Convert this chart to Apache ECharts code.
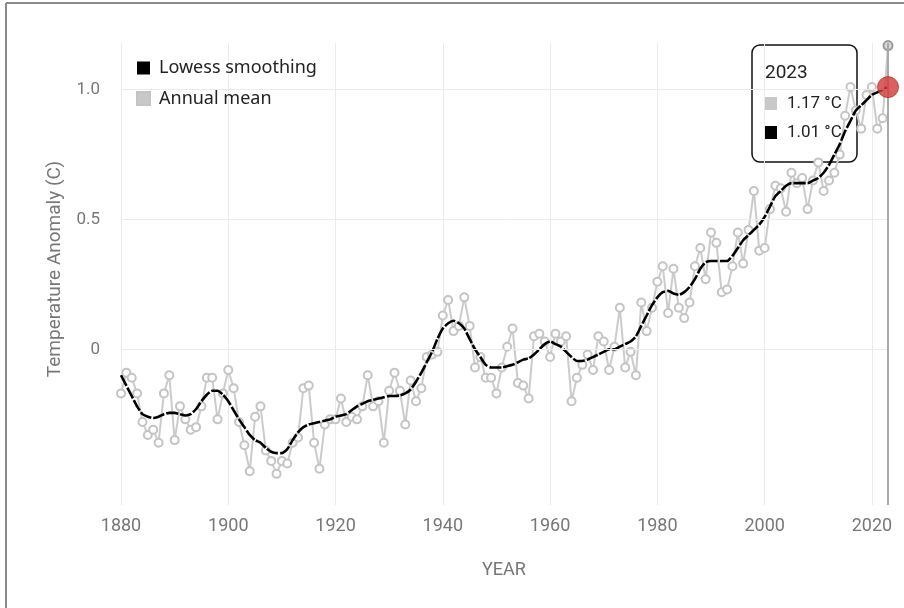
<!DOCTYPE html>
<html>
<head>
<meta charset="utf-8">
<script src="https://cdn.jsdelivr.net/npm/echarts@6/dist/echarts.min.js"></script>
<style>
html,body{margin:0;padding:0;background:#fff;}
#chart{width:904px;height:608px;}
</style>
</head>
<body>
<div id="chart"></div>
<script>
var years = [];
for (var y = 1880; y <= 2023; y++) years.push(y);

var annualMean = [
-0.17,-0.09,-0.11,-0.17,-0.28,-0.33,-0.31,-0.36,-0.17,-0.10,
-0.35,-0.22,-0.27,-0.31,-0.30,-0.22,-0.11,-0.11,-0.27,-0.17,
-0.08,-0.15,-0.28,-0.37,-0.47,-0.26,-0.22,-0.39,-0.43,-0.48,
-0.43,-0.44,-0.36,-0.34,-0.15,-0.14,-0.36,-0.46,-0.29,-0.27,
-0.27,-0.19,-0.28,-0.26,-0.27,-0.22,-0.10,-0.22,-0.20,-0.36,
-0.16,-0.09,-0.16,-0.29,-0.12,-0.20,-0.15,-0.03,-0.02,-0.01,
0.13,0.19,0.07,0.09,0.20,0.09,-0.07,-0.03,-0.11,-0.11,
-0.17,-0.07,0.01,0.08,-0.13,-0.14,-0.19,0.05,0.06,0.03,
-0.03,0.06,0.03,0.05,-0.20,-0.11,-0.06,-0.02,-0.08,0.05,
0.03,-0.08,0.01,0.16,-0.07,-0.01,-0.10,0.18,0.07,0.16,
0.26,0.32,0.14,0.31,0.16,0.12,0.18,0.32,0.39,0.27,
0.45,0.41,0.22,0.23,0.32,0.45,0.33,0.46,0.61,0.38,
0.39,0.54,0.63,0.62,0.53,0.68,0.64,0.66,0.54,0.65,
0.72,0.61,0.65,0.68,0.75,0.90,1.01,0.92,0.85,0.98,
1.01,0.85,0.89,1.17
];

var lowess = [
-0.10,-0.14,-0.18,-0.22,-0.25,-0.26,-0.265,-0.26,-0.25,-0.245,
-0.245,-0.25,-0.255,-0.25,-0.23,-0.20,-0.175,-0.16,-0.16,-0.175,
-0.20,-0.235,-0.27,-0.30,-0.33,-0.35,-0.36,-0.38,-0.395,-0.40,
-0.40,-0.385,-0.35,-0.32,-0.30,-0.29,-0.285,-0.28,-0.275,-0.27,
-0.26,-0.255,-0.25,-0.235,-0.22,-0.21,-0.20,-0.195,-0.19,-0.185,
-0.18,-0.18,-0.178,-0.17,-0.155,-0.125,-0.09,-0.05,-0.01,0.04,
0.08,0.10,0.11,0.10,0.08,0.04,0.00,-0.03,-0.06,-0.07,
-0.07,-0.07,-0.065,-0.06,-0.05,-0.04,-0.035,-0.02,0.00,0.02,
0.03,0.02,0.01,-0.01,-0.03,-0.045,-0.045,-0.04,-0.03,-0.02,
-0.01,0.00,0.00,0.01,0.02,0.03,0.05,0.09,0.13,0.17,
0.20,0.22,0.225,0.215,0.21,0.22,0.24,0.27,0.31,0.335,
0.34,0.34,0.34,0.34,0.36,0.39,0.42,0.44,0.46,0.48,
0.51,0.55,0.59,0.61,0.63,0.64,0.64,0.64,0.64,0.65,
0.66,0.68,0.71,0.75,0.79,0.84,0.88,0.92,0.94,0.96,
0.98,0.99,1.00,1.01
];

var xTicks = [1880,1900,1920,1940,1960,1980,2000,2020];
var yTicks = [0, 0.5, 1.0];
var yTickLabels = ['0', '0.5', '1.0'];

var last = years.length - 1;
var lastYear = years[last];
var lastAnnual = annualMean[last];
var lastLowess = lowess[last];

var annualData = years.map(function (yr, i) {
  var item = { value: [yr, annualMean[i]] };
  if (i === last) {
    item.symbolSize = 9;
    item.itemStyle = { color: '#d8d8d8', borderColor: '#9a9a9a', borderWidth: 2 };
  }
  return item;
});
var lowessData = years.map(function (yr, i) { return [yr, lowess[i]]; });

var FONT = 'Roboto, "Liberation Sans", sans-serif';
var chart = echarts.init(document.getElementById('chart'), null, { renderer: 'canvas' });

chart.setOption({
  animation: false,
  backgroundColor: '#fff',
  grid: { left: 121, right: 16, top: 43, bottom: 103, containLabel: false },
  legend: {
    orient: 'vertical',
    left: 131,
    top: 54,
    itemWidth: 13,
    itemHeight: 13,
    itemGap: 12.6,
    icon: 'rect',
    selectedMode: false,
    textStyle: { fontFamily: '"Noto Sans", sans-serif', fontSize: 18, lineHeight: 18, color: '#222', padding: [0, 0, 0, 4] },
    data: [
      { name: 'Lowess smoothing', itemStyle: { color: '#000' } },
      { name: 'Annual mean', itemStyle: { color: '#c8c8c8' } }
    ]
  },
  xAxis: {
    type: 'value',
    min: 1880,
    max: lastYear,
    interval: 20,
    axisLine: { show: false },
    axisTick: { show: false },
    splitLine: { show: true, lineStyle: { color: '#ebebeb', width: 1 } },
    axisLabel: {
      margin: 12,
      color: '#777',
      fontSize: 18,
      fontFamily: FONT,
      formatter: function (v) { return xTicks.indexOf(Math.round(v)) >= 0 ? String(Math.round(v)) : ''; }
    }
  },
  yAxis: {
    type: 'value',
    min: -0.6,
    max: 1.18,
    interval: 0.1,
    axisLine: { show: false },
    axisTick: { show: false },
    splitLine: { show: false },
    axisLabel: {
      margin: 21,
      color: '#777',
      fontSize: 17,
      fontFamily: FONT,
      formatter: function (v) {
        var r = Math.round(v * 100) / 100;
        for (var i = 0; i < yTicks.length; i++) if (Math.abs(r - yTicks[i]) < 1e-6) return yTickLabels[i];
        return '';
      }
    }
  },
  series: [
    {
      name: 'gridlines',
      type: 'line',
      data: [],
      z: 1,
      silent: true,
      markLine: {
        silent: true,
        symbol: 'none',
        label: { show: false },
        animation: false,
        data: yTicks.map(function (t) { return { yAxis: t, lineStyle: { color: '#ebebeb', width: 1, type: 'solid' } }; })
          .concat([{ xAxis: lastYear, lineStyle: { color: '#a9a9a9', width: 2, type: 'solid' } }])
      }
    },
    {
      name: 'Annual mean',
      type: 'line',
      data: annualData,
      z: 2,
      symbol: 'circle',
      symbolSize: 8,
      showAllSymbol: true,
      lineStyle: { color: '#cbcbcb', width: 2 },
      itemStyle: { color: '#fff', borderColor: '#c4c4c4', borderWidth: 2 }
    },
    {
      name: 'Lowess smoothing',
      type: 'line',
      data: lowessData,
      z: 3,
      symbol: 'none',
      smooth: 0.2,
      lineStyle: { color: '#000', width: 2.6, type: [12, 2] }
    },
    {
      name: 'highlight',
      type: 'scatter',
      z: 5,
      data: [[lastYear, lastLowess]],
      symbolSize: 21,
      itemStyle: { color: '#d23a3a', borderColor: '#b52e2e', borderWidth: 1 }
    }
  ],
  graphic: [
    { type: 'line', shape: { x1: 6, y1: 3, x2: 904, y2: 3 }, style: { stroke: '#8a8a8a', lineWidth: 2 }, silent: true },
    { type: 'line', shape: { x1: 6, y1: 3, x2: 6, y2: 608 }, style: { stroke: '#8a8a8a', lineWidth: 2 }, silent: true },
    {
      type: 'text', x: 55, y: 269, rotation: Math.PI / 2, silent: true,
      style: { text: 'Temperature Anomaly (C)', fill: '#777', fontSize: 19, fontFamily: FONT, align: 'center', verticalAlign: 'middle' }
    },
    {
      type: 'text', x: 504, y: 570, silent: true,
      style: { text: 'YEAR', fill: '#777', fontSize: 18, fontFamily: FONT, align: 'center', verticalAlign: 'middle' }
    },
    {
      type: 'group', x: 752, y: 45, z: 100, silent: true,
      children: [
        { type: 'rect', shape: { x: 0, y: 0, width: 105, height: 117, r: 8 }, style: { fill: '#fff', stroke: '#111', lineWidth: 1.5 } },
        { type: 'text', x: 13, y: 28, style: { text: String(lastYear), fill: '#222', fontSize: 19, fontFamily: FONT, verticalAlign: 'middle' } },
        { type: 'rect', shape: { x: 12, y: 52, width: 13, height: 13 }, style: { fill: '#c8c8c8' } },
        { type: 'text', x: 35, y: 59, style: { text: lastAnnual.toFixed(2) + ' \u00b0C', fill: '#222', fontSize: 17, fontFamily: FONT, verticalAlign: 'middle' } },
        { type: 'rect', shape: { x: 12, y: 81, width: 13, height: 13 }, style: { fill: '#000' } },
        { type: 'text', x: 35, y: 88, style: { text: lastLowess.toFixed(2) + ' \u00b0C', fill: '#222', fontSize: 17, fontFamily: FONT, verticalAlign: 'middle' } }
      ]
    }
  ]
});
</script>
</body>
</html>
